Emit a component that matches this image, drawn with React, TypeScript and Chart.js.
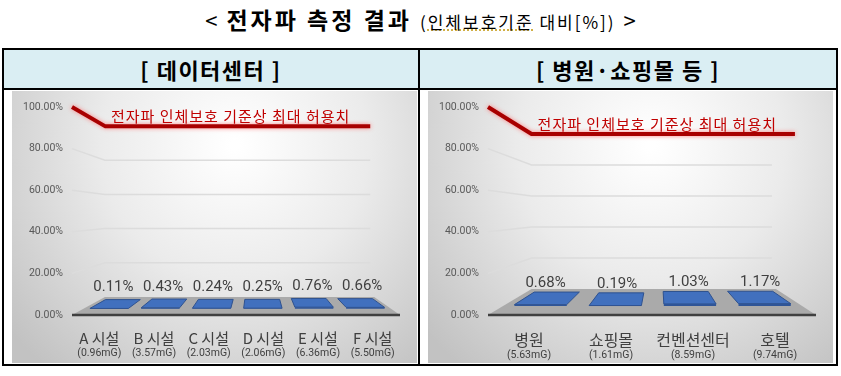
import React, { useEffect, useRef } from 'react';
import { Chart, registerables } from 'chart.js';

Chart.register(...registerables);

// ---------- data ----------
const titleMain = '전자파 측정 결과';
const titleSubPre = '(';
const titleSubMarked = '인체보호기준';
const titleSubPost = ' 대비[%])';
const headerLeft = '[ 데이터센터 ]';
const headerRight = '[ 병원·쇼핑몰 등 ]';

const dcCategories = ['A 시설', 'B 시설', 'C 시설', 'D 시설', 'E 시설', 'F 시설'];
const dcFields = ['(0.96mG)', '(3.57mG)', '(2.03mG)', '(2.06mG)', '(6.36mG)', '(5.50mG)'];
const dcValues = [0.11, 0.43, 0.24, 0.25, 0.76, 0.66];

const pubCategories = ['병원', '쇼핑몰', '컨벤션센터', '호텔'];
const pubFields = ['(5.63mG)', '(1.61mG)', '(8.59mG)', '(9.74mG)'];
const pubValues = [0.68, 0.19, 1.03, 1.17];

const yTickValues = [0, 20, 40, 60, 80, 100];
const LIMIT = 100;
const limitLabel = '전자파 인체보호 기준상 최대 허용치';

// ---------- view settings ----------
type View = {
  cx: number; cy: number; kb: number; barPct: number; redExtra: number;
  labelSize: number; xPad: number; subY: number; dataLabelOffset: number;
};
const dcView: View = { cx: 0.561, cy: 0.514, kb: 0.821, barPct: 0.75, redExtra: -4, labelSize: 15, xPad: 14, subY: 262, dataLabelOffset: 12 };
const pubView: View = { cx: 0.521, cy: 0.51, kb: 0.745, barPct: 0.7, redExtra: 19, labelSize: 16, xPad: 15, subY: 264, dataLabelOffset: 9 };

const CW = 405;
const CH = 272;
const PLOT_BOTTOM = 224;
const KR = '"Noto Sans CJK KR", "Noto Sans", sans-serif';

function project(a: any, v: View, xf: number, yf: number, d: number): [number, number] {
  const cx = a.left + v.cx * (a.right - a.left);
  const cy = a.top + v.cy * (a.bottom - a.top);
  const f = 1 - d * (1 - v.kb);
  return [cx + (xf - cx) * f, cy + (yf - cy) * f];
}

function poly(ctx: CanvasRenderingContext2D, pts: [number, number][], fill: string, stroke?: string) {
  ctx.beginPath();
  pts.forEach((p, i) => (i ? ctx.lineTo(p[0], p[1]) : ctx.moveTo(p[0], p[1])));
  ctx.closePath();
  ctx.fillStyle = fill;
  ctx.fill();
  if (stroke) {
    ctx.strokeStyle = stroke;
    ctx.lineWidth = 1;
    ctx.stroke();
  }
}

function makeScene(values: number[], fields: string[], view: View) {
  return {
    id: 'scene3d',
    beforeDraw(chart: any) {
      const { ctx, width: w, height: h } = chart;
      ctx.save();
      const g = ctx.createRadialGradient(w * 0.55, h * 0.2, 5, w * 0.55, h * 0.2, w * 0.72);
      g.addColorStop(0, '#ffffff');
      g.addColorStop(0.45, '#ebebeb');
      g.addColorStop(1, '#c2c2c2');
      ctx.fillStyle = g;
      ctx.fillRect(0, 0, w, h);
      ctx.restore();
    },
    beforeDatasetsDraw(chart: any) {
      const { ctx, chartArea: a } = chart;
      const y = chart.scales.y;
      const P = (xf: number, yf: number, d: number) => project(a, view, xf, yf, d);
      ctx.save();
      // perspective gridlines (side wall + back wall)
      ctx.strokeStyle = '#dcdcdc';
      ctx.lineWidth = 1.5;
      y.ticks.forEach((t: any) => {
        if (t.value <= 0 || t.value >= LIMIT) return;
        const yy = y.getPixelForValue(t.value);
        const [bx, by] = P(a.left, yy, 1);
        const [rx] = P(a.right, yy, 1);
        ctx.beginPath();
        ctx.moveTo(a.left, yy);
        ctx.lineTo(bx, by);
        ctx.lineTo(rx - 4, by);
        ctx.stroke();
      });
      // floor
      const y0 = y.getPixelForValue(0);
      poly(ctx, [P(a.left, y0, 0), P(a.right, y0, 0), P(a.right, y0, 1), P(a.left, y0, 1)], '#aaaaaa');
      // limit line
      const yl = y.getPixelForValue(LIMIT);
      const [lbx, lby] = P(a.left, yl, 1);
      const [lrx] = P(a.right, yl, 1);
      ctx.save();
      ctx.shadowColor = 'rgba(255,110,110,0.85)';
      ctx.shadowBlur = 4;
      ctx.strokeStyle = '#a80000';
      ctx.lineWidth = 4;
      ctx.lineJoin = 'round';
      ctx.beginPath();
      ctx.moveTo(a.left, yl);
      ctx.lineTo(lbx, lby);
      ctx.lineTo(lrx + view.redExtra, lby);
      ctx.stroke();
      ctx.restore();
      ctx.font = `15px ${KR}`;
      (ctx as any).letterSpacing = '1px';
      ctx.fillStyle = '#c00000';
      ctx.textAlign = 'left';
      ctx.textBaseline = 'middle';
      ctx.fillText(limitLabel, lbx + 6, lby - 10);
      ctx.restore();
    },
    afterDatasetsDraw(chart: any) {
      const { ctx, chartArea: a } = chart;
      const y = chart.scales.y;
      const x = chart.scales.x;
      const P = (xf: number, yf: number, d: number) => project(a, view, xf, yf, d);
      const meta = chart.getDatasetMeta(0);
      const y0 = y.getPixelForValue(0);
      const dF = 0.35;
      const dB = 0.84;
      ctx.save();
      meta.data.forEach((el: any, i: number) => {
        const { x: ex, width } = el.getProps(['x', 'width'], true);
        const xl = ex - width / 2;
        const xr = ex + width / 2;
        const yv = y.getPixelForValue(values[i]);
        poly(ctx, [P(xl, yv, dF), P(xr, yv, dF), P(xr, yv, dB), P(xl, yv, dB)], '#4170be', '#2f528f');
        poly(ctx, [P(xl, y0, dF), P(xr, y0, dF), P(xr, yv, dF), P(xl, yv, dF)], '#2f5597');
        // data label
        const lx = P(ex, yv, 0.5)[0];
        const ly = P(ex, yv, dB)[1] - view.dataLabelOffset;
        ctx.font = '15px Roboto';
        ctx.fillStyle = '#404040';
        ctx.textAlign = 'center';
        ctx.textBaseline = 'middle';
        ctx.fillText(values[i].toFixed(2) + '%', lx, ly);
      });
      // front axis line
      ctx.strokeStyle = '#404040';
      ctx.lineWidth = 2.5;
      ctx.beginPath();
      ctx.moveTo(a.left, y0);
      ctx.lineTo(a.right, y0);
      ctx.stroke();
      // sub labels
      ctx.font = '10.5px Roboto';
      ctx.fillStyle = '#404040';
      ctx.textAlign = 'center';
      ctx.textBaseline = 'middle';
      fields.forEach((f, i) => {
        ctx.fillText(f, x.getPixelForValue(i), view.subY);
      });
      ctx.restore();
    },
  };
}

function Chart3D({ categories, fields, values, view }: { categories: string[]; fields: string[]; values: number[]; view: View }) {
  const ref = useRef<HTMLCanvasElement | null>(null);
  useEffect(() => {
    if (!ref.current) return;
    const chart = new Chart(ref.current, {
      type: 'bar',
      data: {
        labels: categories,
        datasets: [
          {
            data: values,
            backgroundColor: 'rgba(0,0,0,0)',
            borderWidth: 0,
            barPercentage: view.barPct,
            categoryPercentage: 1,
          },
        ],
      },
      options: {
        responsive: false,
        maintainAspectRatio: false,
        animation: false,
        layout: { padding: { top: 16, right: 17, left: 0, bottom: 0 } },
        plugins: { legend: { display: false }, tooltip: { enabled: false }, title: { display: false } },
        scales: {
          x: {
            grid: { display: false, drawTicks: false },
            border: { display: false },
            ticks: {
              color: '#404040',
              font: { family: KR, size: view.labelSize },
              padding: view.xPad,
              maxRotation: 0,
              autoSkip: false,
            },
            afterFit: (s: any) => {
              s.height = CH - PLOT_BOTTOM;
            },
          },
          y: {
            min: 0,
            max: 100,
            grid: { display: false, drawTicks: false },
            border: { display: false },
            afterBuildTicks: (s: any) => {
              s.ticks = yTickValues.map((v) => ({ value: v }));
            },
            ticks: {
              color: '#595959',
              font: { family: 'Roboto', size: 10.5 },
              padding: 9,
              callback: (v: any) => Number(v).toFixed(2) + '%',
            },
            afterFit: (s: any) => {
              s.width = 60;
            },
          },
        },
      } as any,
      plugins: [makeScene(values, fields, view)],
    });
    return () => chart.destroy();
  }, []);
  return <canvas ref={ref} width={CW} height={CH} style={{ width: CW, height: CH, display: 'block' }} />;
}

const line = (s: React.CSSProperties): React.CSSProperties => ({ position: 'absolute', background: '#000', ...s });

export default function App() {
  return (
    <div style={{ position: 'absolute', left: 0, top: 0, width: 841, height: 376, background: '#fff', overflow: 'hidden', fontFamily: KR, color: '#000' }}>
      {/* title */}
      <div style={{ position: 'absolute', left: 0, top: 4, width: 841, display: 'flex', justifyContent: 'center', alignItems: 'baseline', whiteSpace: 'nowrap', lineHeight: '30px' }}>
        <span style={{ fontSize: 22, fontWeight: 400, marginRight: 9 }}>{'<'}</span>
        <span style={{ fontSize: 23, fontWeight: 700, letterSpacing: '3px' }}>{titleMain}</span>
        <span style={{ fontSize: 17, letterSpacing: '2px', marginLeft: 8 }}>
          {titleSubPre}
          <span style={{ textDecoration: 'underline dotted #c9a227' }}>{titleSubMarked}</span>
          {titleSubPost}
        </span>
        <span style={{ fontSize: 22, fontWeight: 400, marginLeft: 8 }}>{'>'}</span>
      </div>

      {/* table */}
      <div style={{ position: 'absolute', left: 3, top: 49, width: 834, height: 39, background: '#daeef3' }} />
      <div style={line({ left: 2, top: 48, width: 836, height: 2 })} />
      <div style={line({ left: 2, top: 88, width: 836, height: 2 })} />
      <div style={line({ left: 2, top: 364, width: 836, height: 2 })} />
      <div style={line({ left: 2, top: 48, width: 2, height: 318 })} />
      <div style={line({ left: 418, top: 48, width: 2, height: 318 })} />
      <div style={line({ left: 836, top: 48, width: 2, height: 318 })} />

      <div style={{ position: 'absolute', left: 4, top: 50, width: 414, height: 38, display: 'flex', alignItems: 'center', justifyContent: 'center', fontSize: 22, fontWeight: 700, letterSpacing: '1.5px', whiteSpace: 'pre' }}>
        {headerLeft}
      </div>
      <div style={{ position: 'absolute', left: 420, top: 50, width: 416, height: 38, display: 'flex', alignItems: 'center', justifyContent: 'center', fontSize: 22, fontWeight: 700, letterSpacing: '1.5px', whiteSpace: 'pre' }}>
        {headerRight}
      </div>

      <div style={{ position: 'absolute', left: 12, top: 91 }}>
        <Chart3D categories={dcCategories} fields={dcFields} values={dcValues} view={dcView} />
      </div>
      <div style={{ position: 'absolute', left: 428, top: 91 }}>
        <Chart3D categories={pubCategories} fields={pubFields} values={pubValues} view={pubView} />
      </div>
    </div>
  );
}
